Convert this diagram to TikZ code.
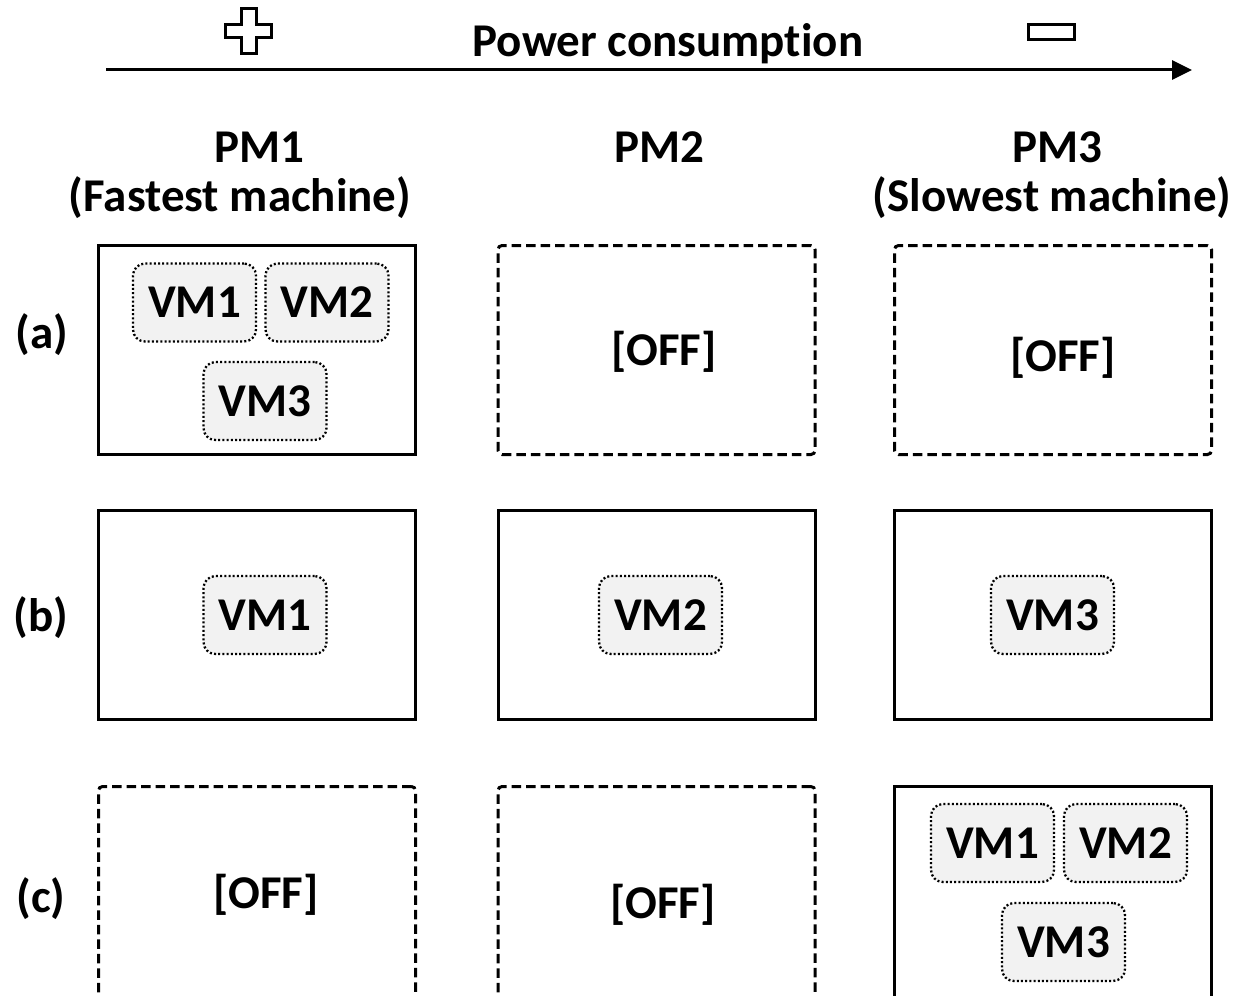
\documentclass[tikz,border=0pt]{standalone}
\usepackage{fontspec}
\setmainfont{Carlito}[Ligatures=NoCommon]
\usetikzlibrary{arrows.meta}
\definecolor{vmfill}{HTML}{F2F2F2}
\begin{document}
\begin{tikzpicture}[x=1pt,y=-1pt,
  lbl/.style={font=\fontsize{47}{52}\selectfont\bfseries, inner sep=0pt},
  pmon/.style={draw, line width=3pt, minimum width=317pt, minimum height=209pt, inner sep=0pt},
  pmoff/.style={pmon, dash pattern=on 9.5pt off 5pt, rounded corners=4pt},
  tall/.style={minimum height=240pt},
  vmbox/.style={draw, fill=vmfill, line width=2.3pt, dash pattern=on 2pt off 2.2pt,
    rounded corners=12pt, minimum width=123pt, minimum height=78pt, inner sep=0pt,
    font=\fontsize{47}{52}\selectfont\bfseries}]
\useasboundingbox (0,0) rectangle (1238,995);
\clip (0,0) rectangle (1238,995);

% power consumption axis
\coordinate (axL) at (106,70);
\coordinate (axR) at (1192,70);
\draw[line width=3pt, -{Triangle[length=20pt,width=19pt]}] (axL) -- (axR);
\node[lbl, anchor=base] (power) at (668,57) {Power consumption};

% plus and minus signs
\draw[line width=3pt] (241.5,8.5) -- (256.5,8.5) -- (256.5,24.5) -- (271.5,24.5) -- (271.5,37.5)
  -- (256.5,37.5) -- (256.5,53.5) -- (241.5,53.5) -- (241.5,37.5) -- (225.5,37.5)
  -- (225.5,24.5) -- (241.5,24.5) -- cycle;
\draw[line width=3pt] (1028.5,24.5) rectangle (1074.5,39.5);

% column headers
\node[lbl, anchor=base] (pm1) at (259,163) {PM1};
\node[lbl, anchor=base] (pm1s) at (240,211) {(Fastest machine)};
\node[lbl, anchor=base] (pm2) at (659,163) {PM2};
\node[lbl, anchor=base] (pm3) at (1057,163) {PM3};
\node[lbl, anchor=base] (pm3s) at (1052,211) {(Slowest machine)};

% row labels
\node[lbl, anchor=base] (ra) at (42,348) {(a)};
\node[lbl, anchor=base] (rb) at (41,631) {(b)};
\node[lbl, anchor=base] (rc) at (41,912) {(c)};

% row (a)
\node[pmon]  (a1) at (257,350) {};
\node[pmoff] (a2) at (656.5,350) {};
\node[pmoff] (a3) at (1053,350) {};
\node[vmbox] (a1v1) at (194.5,302.5) {VM1};
\node[vmbox] (a1v2) at (327,302.5) {VM2};
\node[vmbox] (a1v3) at (265,401) {VM3};
\node[lbl] (a2off) at (664,352) {[OFF]};
\node[lbl] (a3off) at (1063,358) {[OFF]};

% row (b)
\node[pmon] (b1) at (257,614.5) {};
\node[pmon] (b2) at (656.5,614.5) {};
\node[pmon] (b3) at (1053,614.5) {};
\node[vmbox] (b1v1) at (265,615) {VM1};
\node[vmbox] (b2v2) at (660.5,615) {VM2};
\node[vmbox] (b3v3) at (1052.5,615) {VM3};

% row (c): boxes run past the lower edge
\node[pmoff, tall] (c1) at (257,906.5) {};
\node[pmoff, tall] (c2) at (656.5,906.5) {};
\node[pmon, tall]  (c3) at (1053,906.5) {};
\node[lbl] (c1off) at (266,895) {[OFF]};
\node[lbl] (c2off) at (663,905) {[OFF]};
\node[vmbox] (c3v1) at (992.5,843) {VM1};
\node[vmbox] (c3v2) at (1125.5,843) {VM2};
\node[vmbox] (c3v3) at (1063.5,942) {VM3};
\end{tikzpicture}
\end{document}
